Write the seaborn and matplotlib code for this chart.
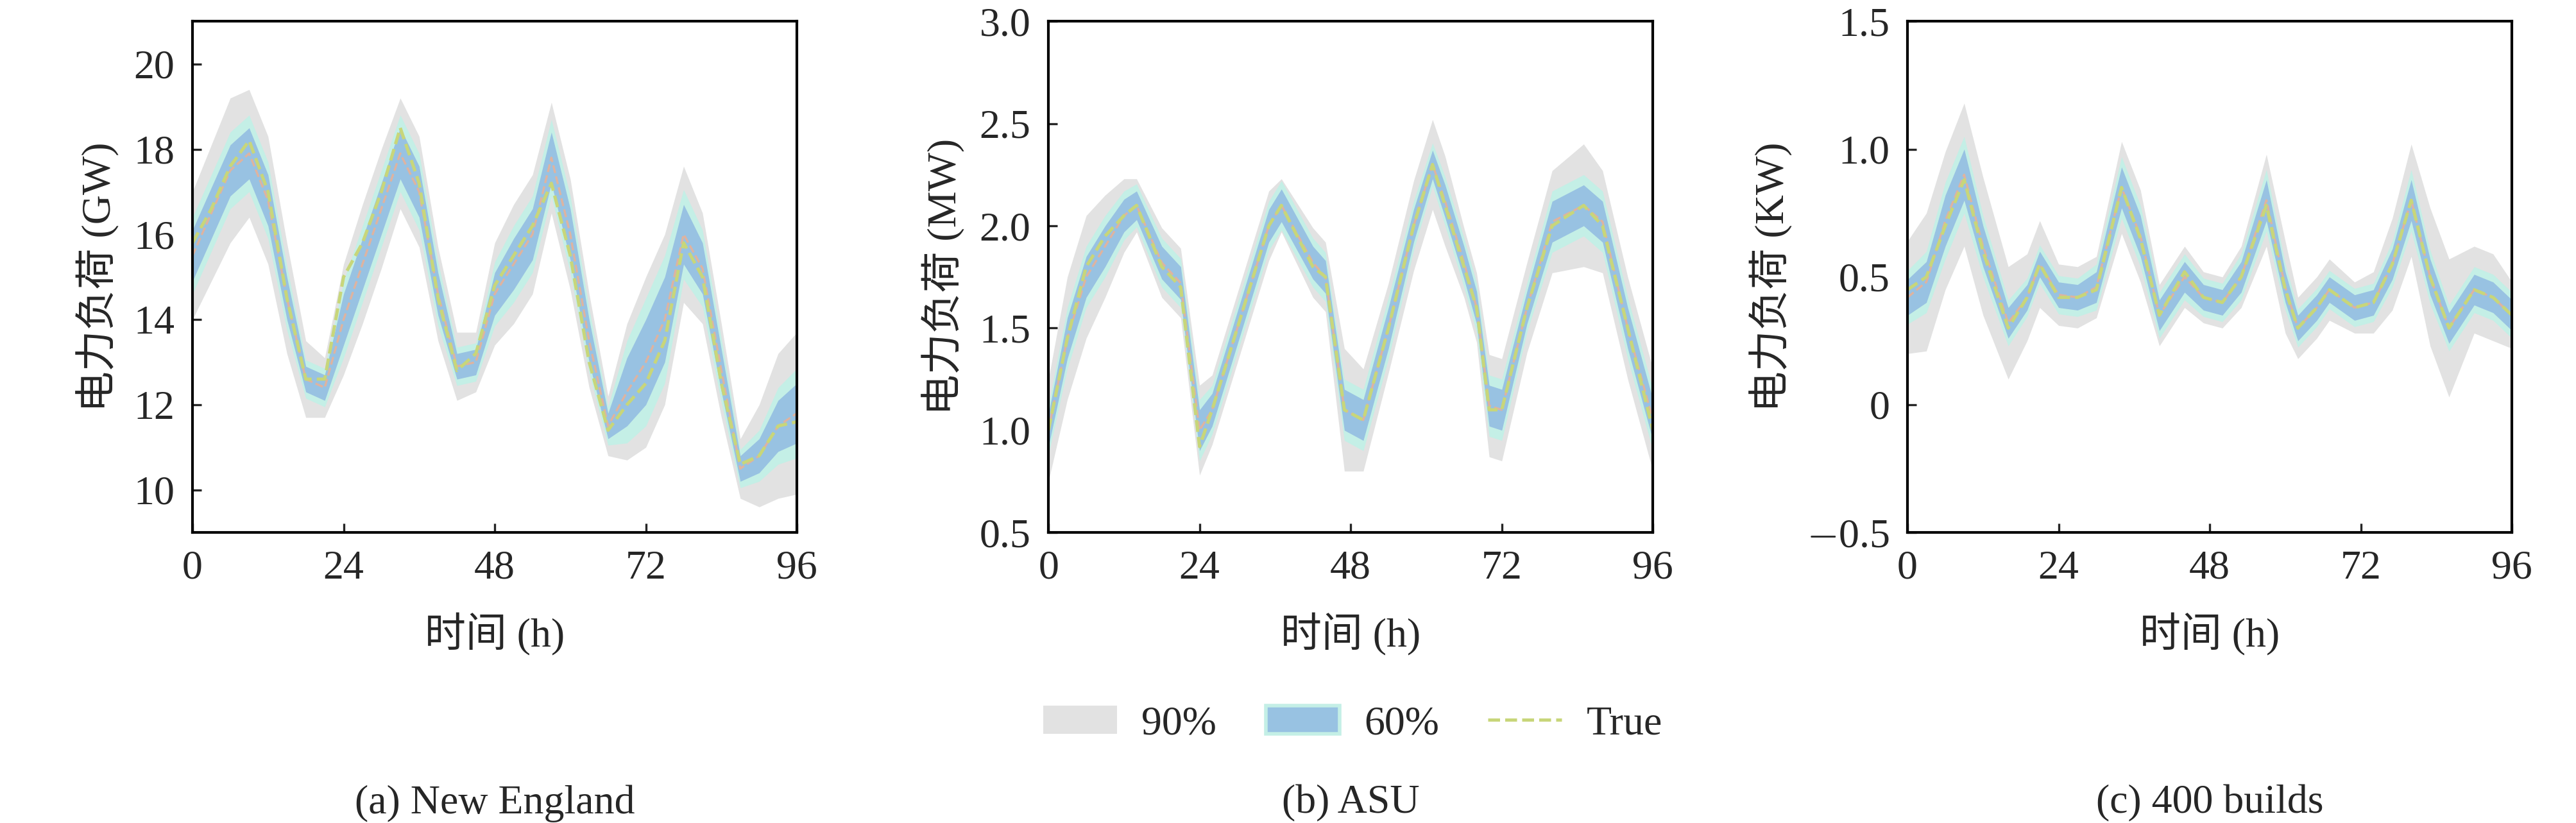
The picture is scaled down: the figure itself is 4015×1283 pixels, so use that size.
import numpy as np
import pandas as pd
import seaborn as sns
import matplotlib
matplotlib.use("Agg")
import matplotlib.pyplot as plt
from matplotlib.patches import Patch
from matplotlib.lines import Line2D

sns.set_theme(style="white")
plt.rcParams['font.family'] = ['Liberation Serif', 'Noto Sans CJK SC']
plt.rcParams['mathtext.fontset'] = 'cm'

# ---- Data ----
hours_a = [0,3,6,9,12,15,18,21,24,27,30,33,36,39,42,45,48,51,54,57,60,63,66,69,72,75,78,81,84,87,90,93,96]
true_a = [15.8,16.6,17.6,18.2,17.0,14.5,12.6,12.6,15.0,15.8,17.0,18.5,17.2,14.5,12.8,13.2,14.8,15.5,16.2,17.2,15.5,13.0,11.4,12.0,12.5,13.5,15.8,15.0,12.5,10.6,10.8,11.5,11.6]
med_a  = [15.5,16.5,17.5,17.9,16.8,14.5,12.6,12.4,14.0,15.3,16.6,17.9,17.0,14.6,12.9,13.0,14.6,15.3,16.0,17.8,16.0,13.5,11.5,12.3,13.0,14.0,16.0,15.2,12.8,10.5,10.8,11.5,11.8]
w60_a  = [0.6,0.6,0.6,0.6,0.6,0.5,0.3,0.3,0.6,0.6,0.6,0.6,0.6,0.5,0.3,0.3,0.5,0.6,0.6,0.6,0.6,0.5,0.3,0.8,1.0,1.0,0.7,0.6,0.5,0.3,0.4,0.6,0.7]
w90_a  = [1.5,1.6,1.7,1.5,1.5,1.3,0.9,0.7,1.3,1.4,1.4,1.3,1.3,1.1,0.8,0.7,1.2,1.4,1.4,1.3,1.3,1.1,0.7,1.6,2.0,2.0,1.6,1.3,1.1,0.7,1.2,1.7,1.9]

hours_b = [0,3,6,9,12,14,18,21,24,26,30,35,37,42,44,47,50,54,58,61,63,66,68,70,72,76,80,85,88,92,96]
true_b = [1.0,1.45,1.8,1.95,2.05,2.1,1.8,1.7,0.92,1.1,1.5,2.0,2.1,1.8,1.75,1.1,1.05,1.5,2.0,2.3,2.1,1.8,1.6,1.1,1.1,1.6,2.0,2.1,2.0,1.5,1.0]
med_b  = [1.0,1.45,1.75,1.9,2.05,2.1,1.82,1.72,1.0,1.1,1.5,2.0,2.1,1.82,1.75,1.1,1.05,1.5,2.0,2.3,2.12,1.82,1.6,1.12,1.1,1.6,2.02,2.1,2.02,1.5,1.05]
w60_b  = [0.08,0.1,0.1,0.1,0.08,0.07,0.08,0.08,0.1,0.08,0.08,0.08,0.08,0.08,0.08,0.1,0.1,0.1,0.08,0.07,0.08,0.08,0.08,0.1,0.1,0.08,0.1,0.1,0.1,0.1,0.1]
w90_b  = [0.25,0.3,0.3,0.25,0.18,0.13,0.17,0.17,0.22,0.17,0.17,0.17,0.13,0.17,0.17,0.3,0.25,0.22,0.22,0.22,0.22,0.17,0.17,0.25,0.25,0.22,0.25,0.3,0.25,0.25,0.25]

hours_c = [0,3,6,9,12,16,19,21,24,27,30,34,37,40,44,47,50,53,57,60,62,65,67,71,74,77,80,83,86,90,93,96]
true_c = [0.45,0.5,0.7,0.88,0.6,0.3,0.42,0.55,0.42,0.42,0.45,0.85,0.65,0.35,0.52,0.42,0.4,0.5,0.78,0.45,0.3,0.38,0.45,0.38,0.4,0.55,0.8,0.5,0.3,0.45,0.42,0.35]
med_c  = [0.42,0.48,0.72,0.9,0.62,0.32,0.42,0.55,0.43,0.42,0.46,0.85,0.66,0.35,0.5,0.42,0.4,0.5,0.8,0.46,0.3,0.38,0.45,0.38,0.4,0.55,0.8,0.5,0.3,0.45,0.42,0.35]
w60_c  = [0.07,0.08,0.1,0.1,0.08,0.06,0.05,0.05,0.05,0.05,0.06,0.08,0.08,0.06,0.06,0.05,0.05,0.06,0.08,0.06,0.05,0.05,0.05,0.05,0.05,0.06,0.08,0.07,0.06,0.06,0.06,0.06]
w90_c  = [0.22,0.27,0.27,0.28,0.27,0.22,0.17,0.17,0.12,0.12,0.12,0.18,0.18,0.12,0.12,0.1,0.1,0.12,0.18,0.18,0.12,0.12,0.12,0.1,0.12,0.18,0.22,0.27,0.27,0.17,0.17,0.13]

panels = [
    (hours_a, true_a, med_a, w60_a, w90_a, (9, 21), [10,12,14,16,18,20], ['10','12','14','16','18','20'], '电力负荷 (GW)', '(a) New England', 0.0747),
    (hours_b, true_b, med_b, w60_b, w90_b, (0.5, 3.0), [0.5,1.0,1.5,2.0,2.5,3.0], ['0.5','1.0','1.5','2.0','2.5','3.0'], '电力负荷 (MW)', '(b) ASU', 0.4069),
    (hours_c, true_c, med_c, w60_c, w90_c, (-0.5, 1.5), [-0.5,0,0.5,1.0,1.5], ['$-$0.5','0','0.5','1.0','1.5'], '电力负荷 (KW)', '(c) 400 builds', 0.7403),
]

fig = plt.figure(figsize=(20.08, 6.415), dpi=200)
fs = 23
for hrs, tr, md, w6, w9, ylim, yt, ytl, ylab, cap, left in panels:
    ax = fig.add_axes([left, 0.353, 0.2346, 0.621])
    h = np.array(hrs); m = np.array(md); a6 = np.array(w6); a9 = np.array(w9)
    ax.fill_between(h, m - a9, m + a9, color='#e2e2e2', lw=0)
    ax.fill_between(h, m - a6 * 1.5, m + a6 * 1.5, color='#c4efe6', lw=0)
    ax.fill_between(h, m - a6, m + a6, color='#98c2e2', lw=0)
    df = pd.DataFrame({'h': h, 'true': tr, 'med': md})
    sns.lineplot(data=df, x='h', y='med', ax=ax, color='#f0b090', lw=1.2, ls='--', alpha=0.8)
    sns.lineplot(data=df, x='h', y='true', ax=ax, color='#c8d67a', lw=1.8, ls='--')
    ax.set_xlim(0, 96); ax.set_ylim(*ylim)
    ax.set_xticks([0,24,48,72,96]); ax.set_yticks(yt); ax.set_yticklabels(ytl)
    ax.tick_params(direction='in', length=5, width=1.2, labelsize=fs, pad=10, bottom=True, left=True)
    for s in ax.spines.values():
        s.set_color('black'); s.set_linewidth(1.5)
    ax.set_xlabel('时间 (h)', fontsize=fs, labelpad=14)
    ax.set_ylabel(ylab, fontsize=fs, labelpad=8)
    fig.text(left + 0.1173, 0.012, cap, ha='center', fontsize=fs)

handles = [Patch(facecolor='#e2e2e2', edgecolor='none'),
           Patch(facecolor='#98c2e2', edgecolor='#c4efe6', lw=2),
           Line2D([0], [0], color='#c8d67a', lw=1.8, ls='--')]
fig.legend(handles, ['90%', '60%', 'True'], loc='center', bbox_to_anchor=(0.525, 0.12),
           ncol=3, frameon=False, fontsize=fs, handlelength=1.8, handletextpad=0.6, columnspacing=1.2)
fig.savefig('out.png', dpi=200, facecolor='white')
